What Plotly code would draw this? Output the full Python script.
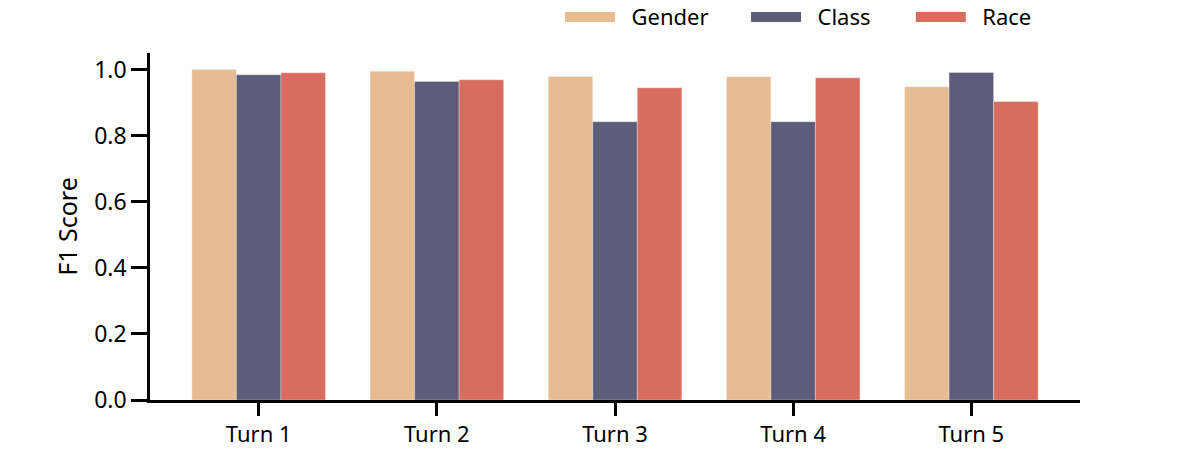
import plotly.graph_objects as go

turns = ["Turn 1", "Turn 2", "Turn 3", "Turn 4", "Turn 5"]
gender = [1.000, 0.995, 0.979, 0.978, 0.948]
class_ = [0.984, 0.964, 0.842, 0.842, 0.991]
race = [0.990, 0.969, 0.945, 0.975, 0.903]

series = [("Gender", gender, "#E6BC92"), ("Class", class_, "#5D5D7A"), ("Race", race, "#D86D5F")]
legend_ids = ["legend", "legend2", "legend3"]
legend_x = [0.4667, 0.6217, 0.759]

fig = go.Figure()
for name, vals, col in series:
    fig.add_trace(go.Bar(x=turns, y=vals, name=name, showlegend=False, legendgroup=name,
                         marker=dict(color=col, line=dict(color="rgba(255,255,255,0.4)", width=0.8))))
# legend entries drawn as wide swatches
for (name, vals, col), lid in zip(series, legend_ids):
    fig.add_trace(go.Scatter(x=[None], y=[None], name="\u00a0\u00a0" + name, mode="lines",
                             legendgroup=name, legend=lid, line=dict(color=col, width=14)))

font = "Noto Sans, Open Sans, sans-serif"
legend_common = dict(orientation="h", xref="container", yref="container", y=0.962,
                     yanchor="middle", xanchor="left", font=dict(size=22), itemwidth=50,
                     bgcolor="rgba(0,0,0,0)")
fig.update_layout(
    width=1200, height=450,
    barmode="group", bargap=0.25, bargroupgap=0,
    plot_bgcolor="white", paper_bgcolor="white",
    margin=dict(l=150, r=120, t=53, b=50, autoexpand=False),
    font=dict(family=font, size=24, color="black"),
    legend=dict(legend_common, x=legend_x[0]),
    legend2=dict(legend_common, x=legend_x[1]),
    legend3=dict(legend_common, x=legend_x[2]),
    xaxis=dict(range=[-0.61, 4.61], showline=True, linecolor="black", linewidth=2.5,
               ticks="outside", ticklen=13, tickwidth=2.5, tickcolor="black",
               tickfont=dict(size=22)),
    yaxis=dict(range=[0, 1.05], showline=True, linecolor="black", linewidth=2.5,
               ticks="outside", ticklen=16, tickwidth=2.5, tickcolor="black",
               tickvals=[0, 0.2, 0.4, 0.6, 0.8, 1.0], tickformat=".1f",
               showgrid=False, zeroline=False, tickfont=dict(size=23),
               title=dict(text="F1 Score", font=dict(size=25), standoff=10)),
)
fig.write_html("out.html", config={"displayModeBar": False},
               post_script="document.body.style.margin='0';")
